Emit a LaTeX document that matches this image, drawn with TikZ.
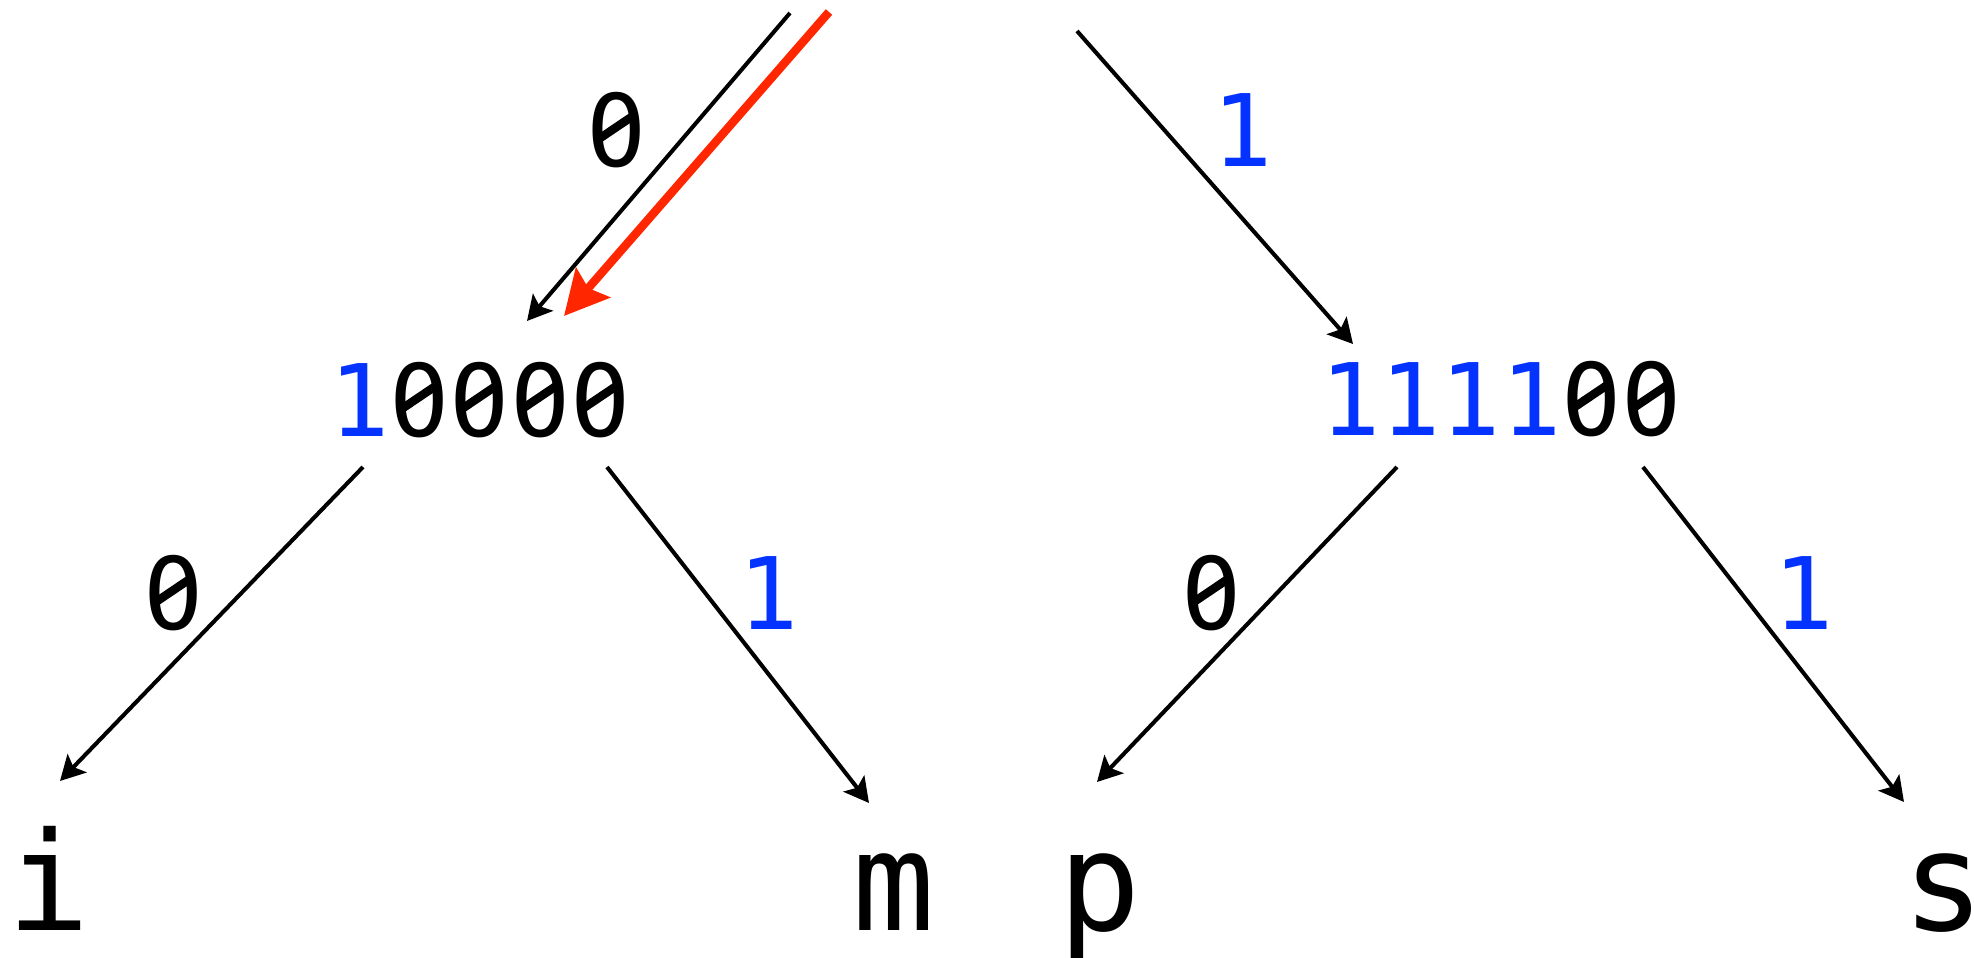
\documentclass[tikz,border=0pt]{standalone}
\usepackage{fontspec}
\usepackage{graphicx}
\usepackage{tikz}
\usetikzlibrary{arrows.meta,calc}
\newfontfamily\menlo{DejaVu Sans Mono}
\definecolor{bitblue}{RGB}{4,51,255}
\definecolor{hotred}{RGB}{255,38,0}
\newcommand{\bone}{\textcolor{bitblue}{1}}
% zero with a slash through it
\newcommand{\zr}{\ooalign{0\cr
	\hidewidth\raisebox{0.185em}{\textcolor{white}{\rule{0.22em}{0.36em}}}\hidewidth\cr
	\hidewidth\raisebox{0.36em}{\rotatebox[origin=c]{34}{\rule{0.40em}{0.085em}}}\hidewidth\cr}}

\begin{document}
\begin{tikzpicture}[x=0.01cm,y=-0.01cm,
	bits/.style={font=\menlo\fontsize{28.45}{30}\selectfont,inner sep=0pt,anchor=base},
	leaf/.style={font=\menlo\fontsize{39}{40}\selectfont,inner sep=0pt,anchor=base},
	link/.style={-{Stealth[length=7pt,width=7.5pt,inset=1.5pt]},line width=1.15pt},
	hot/.style={-{Stealth[length=12.5pt,width=12.7pt,inset=2pt]},line width=2.4pt,color=hotred}]
	\useasboundingbox (0,0) rectangle (1974,958);
	% free ends, the parent sits above the frame
	\coordinate (top-l) at (790,13);
	\coordinate (top-hot) at (829,12);
	\coordinate (top-r) at (1077,31);
	% inner nodes
	\node[bits] (lo) at (480,437) {\bone\zr\zr\zr\zr};
	\node[bits] (hi) at (1501,436) {\bone\bone\bone\bone\zr\zr};
	% leaves
	\node[leaf] (i) at (49,931) {i};
	\node[leaf] (m) at (894,931) {m};
	\node[leaf] (p) at (1100,931) {p};
	\node[leaf] (s) at (1944,931) {s};
	% edge labels
	\node[bits] (lab-top0) at (617,167) {\zr};
	\node[bits] (lab-top1) at (1243,167) {\bone};
	\node[bits] (lab-lo0) at (174,630) {\zr};
	\node[bits] (lab-lo1) at (769,630) {\bone};
	\node[bits] (lab-hi0) at (1212,630) {\zr};
	\node[bits] (lab-hi1) at (1804,630) {\bone};
	% edges
	\draw[link] (top-l) -- ($(lo.base)+(47,-116)$);
	\draw[hot] (top-hot) -- ($(lo.base)+(84,-121)$);
	\draw[link] (top-r) -- ($(hi.base)+(-148,-92)$);
	\draw[link] ($(lo.base)+(-117,30)$) -- ($(i.base)+(11,-150)$);
	\draw[link] ($(lo.base)+(127,30)$) -- ($(m.base)+(-25,-128)$);
	\draw[link] ($(hi.base)+(-104,31)$) -- ($(p.base)+(-3,-149)$);
	\draw[link] ($(hi.base)+(142,31)$) -- ($(s.base)+(-40,-129)$);
\end{tikzpicture}
\end{document}
